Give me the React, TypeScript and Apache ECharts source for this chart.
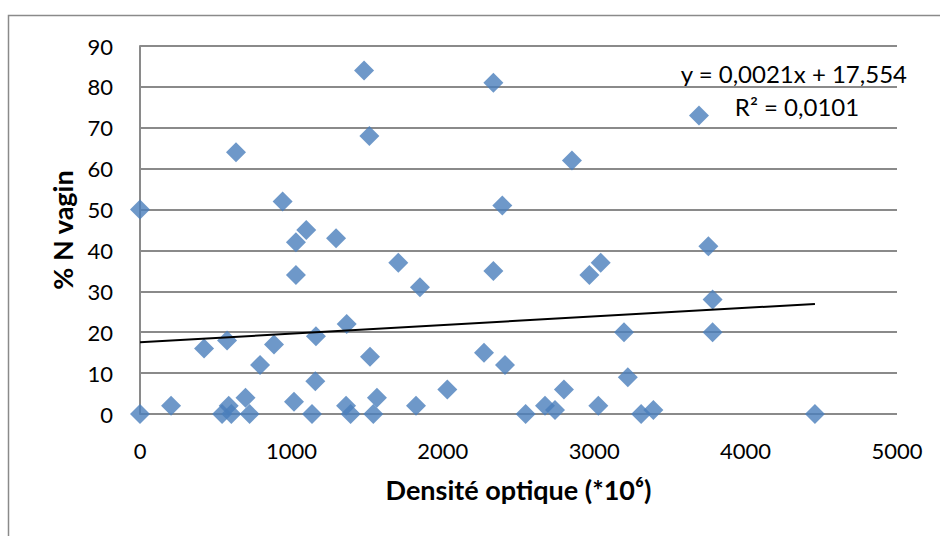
import React, { useEffect, useRef } from "react";
import * as echarts from "echarts";

const densite: number[] = [
  0, 0, 205, 423, 542, 575, 586, 603, 634, 697, 724, 793, 885, 942, 1017, 1030,
  1030, 1098, 1136, 1158, 1162, 1295, 1361, 1365, 1391, 1480, 1515, 1519, 1541,
  1565, 1706, 1823, 1849, 2030, 2272, 2334, 2334, 2393, 2411, 2547, 2675, 2741,
  2800, 2853, 2968, 3027, 3043, 3197, 3222, 3310, 3391, 3692, 3754, 3782, 3782,
  4458,
];
const nVagin: number[] = [
  50, 0, 2, 16, 0, 18, 2, 0, 64, 4, 0, 12, 17, 52, 3, 42, 34, 45, 0, 8, 19, 43,
  2, 22, 0, 84, 68, 14, 0, 4, 37, 2, 31, 6, 15, 81, 35, 51, 12, 0, 2, 1, 6, 62,
  34, 2, 37, 20, 9, 0, 1, 73, 41, 28, 20, 0,
];

const slope = 0.0021;
const intercept = 17.554;
const equationText = "y = 0,0021x + 17,554";
const r2Text = "R² = 0,0101";

const xTicks = [0, 1000, 2000, 3000, 4000, 5000];
const yTicks = [0, 10, 20, 30, 40, 50, 60, 70, 80, 90];

const xTitle = "Densité optique (*10⁶)";
const yTitle = "% N vagin";

const FONT = "Lato, 'Open Sans', sans-serif";

export default function App() {
  const ref = useRef<HTMLDivElement>(null);
  useEffect(() => {
    if (!ref.current) return;
    const chart = echarts.init(ref.current, undefined, { renderer: "svg" });
    const points = densite.map((x, i) => [x, nVagin[i]]);
    const xMax = Math.max(...densite);
    const trend = [
      [0, intercept],
      [xMax, intercept + slope * xMax],
    ];
    chart.setOption({
      animation: false,
      backgroundColor: "#ffffff",
      textStyle: { fontFamily: FONT },
      grid: { left: 140, right: 43, top: 46, bottom: 122, containLabel: false },
      xAxis: {
        type: "value",
        min: xTicks[0],
        max: xTicks[xTicks.length - 1],
        interval: 1000,
        name: xTitle,
        nameLocation: "middle",
        nameGap: 62,
        nameTextStyle: { fontFamily: FONT, fontSize: 27, fontWeight: "bold", color: "#000" },
        axisLine: { show: false },
        axisTick: { show: false },
        splitLine: { show: false },
        axisLabel: {
          fontFamily: FONT,
          fontSize: 22,
          color: "#000",
          margin: 25,
          formatter: (v: number) => String(v),
        },
      },
      yAxis: {
        type: "value",
        min: yTicks[0],
        max: yTicks[yTicks.length - 1],
        interval: 10,
        axisLine: { show: true, lineStyle: { color: "#8a8a8a", width: 2 } },
        axisTick: { show: false },
        splitLine: { show: true, lineStyle: { color: "#8a8a8a", width: 2 } },
        axisLabel: {
          fontFamily: FONT,
          fontSize: 22,
          color: "#000",
          margin: 27,
          formatter: (v: number) => String(v),
        },
      },
      graphic: [
        {
          type: "rect",
          shape: { x: 8.5, y: 15.5, width: 1000, height: 600 },
          style: { fill: "none", stroke: "#8a8a8a", lineWidth: 1.5 },
          silent: true,
        },
        {
          type: "text",
          x: 62,
          y: 230,
          rotation: Math.PI / 2,
          style: {
            text: yTitle,
            fontFamily: FONT,
            fontSize: 27,
            fontWeight: "bold",
            fill: "#000",
            align: "center",
            verticalAlign: "middle",
          },
        },
        {
          type: "text",
          x: 907,
          y: 73,
          style: {
            text: equationText,
            fontFamily: FONT,
            fontSize: 24,
            fill: "#000",
            align: "right",
            verticalAlign: "middle",
          },
        },
        {
          type: "text",
          x: 797,
          y: 106,
          style: {
            text: r2Text,
            fontFamily: FONT,
            fontSize: 24,
            fill: "#000",
            align: "center",
            verticalAlign: "middle",
          },
        },
      ],
      series: [
        {
          type: "scatter",
          data: points,
          symbol: "diamond",
          symbolSize: 20,
          itemStyle: { color: "#4a7ebb" },
          z: 3,
        },
        {
          type: "line",
          data: trend,
          symbol: "none",
          lineStyle: { color: "#000", width: 2 },
          z: 4,
        },
      ],
    });
    return () => chart.dispose();
  }, []);
  return (
    <div
      ref={ref}
      style={{ position: "fixed", left: 0, top: 0, width: 940, height: 536 }}
    />
  );
}
